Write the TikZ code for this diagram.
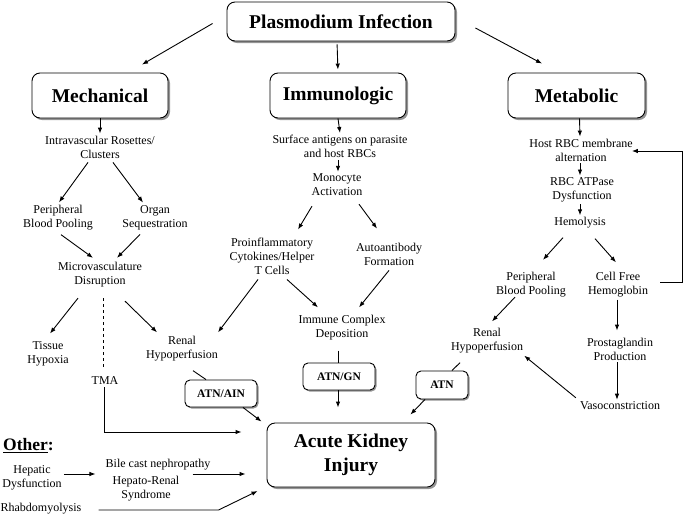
\documentclass[tikz,border=0pt]{standalone}
\usepackage{fontspec}
\setmainfont{Liberation Serif}
\usetikzlibrary{arrows.meta,shadows}
\tikzset{
	bigbox/.style={draw, line width=0.9pt, rounded corners=8pt, fill=white, align=center,
		drop shadow={shadow xshift=2pt, shadow yshift=-2pt, fill=black!70, opacity=0.6},
		font=\fontsize{19.5}{24}\selectfont\bfseries},
	smallbox/.style={draw, line width=0.9pt, rounded corners=5pt, fill=white, align=center,
		drop shadow={shadow xshift=1.5pt, shadow yshift=-1.5pt, fill=black!70, opacity=0.6},
		font=\fontsize{11.5}{14}\selectfont\bfseries},
	txt/.style={align=center, inner sep=2pt, font=\fontsize{12}{14}\selectfont},
	arr/.style={-{Latex[length=6pt,width=4.5pt]}, line width=0.9pt},
	lin/.style={line width=0.9pt}
}

\begin{document}
\begin{tikzpicture}[x=1pt, y=-1pt]
		%%%%% START %%%%%
		\useasboundingbox (0,0) rectangle (685,515);
		
		% top row
		\node[bigbox, minimum width=228pt, minimum height=39pt] (inf) at (341, 21.5) {Plasmodium Infection};
		\node[bigbox, minimum width=136pt, minimum height=45pt] (mech) at (100, 95.5) {Mechanical};
		\node[bigbox, minimum width=136pt, minimum height=45pt] (immu) at (338, 95.5) {Immunologic};
		\node[bigbox, minimum width=137pt, minimum height=45pt] (meta) at (576.5, 95.5) {Metabolic};
		\node[bigbox, minimum width=168pt, minimum height=64pt] (aki) at (351, 455) {Acute Kidney\\Injury};
		
		\draw[arr] ([shift={(-14,2)}]inf.west) -- ([shift={(42,-8)}]mech.north);
		\draw[arr, shorten <=3pt, shorten >=3pt] ([xshift=-4pt]inf.south) -- (immu.north);
		\draw[arr] ([shift={(20,6.5)}]inf.east) -- ([shift={(-34.5,-9)}]meta.north);
		
		% mechanical
		\node[txt] (ivr) at (100, 147) {Intravascular Rosettes/\\Clusters};
		\node[txt] (pbpa) at (58, 218) {Peripheral\\Blood Pooling};
		\node[txt] (orgs) at (155, 218) {Organ\\Sequestration};
		\node[txt] (mvd) at (100, 274.5) {Microvasculature\\Disruption};
		\node[txt] (thx) at (48, 354) {Tissue\\Hypoxia};
		\node[txt] (tma) at (105, 381) {TMA};
		\node[txt] (rhpa) at (182, 349) {Renal\\Hypoperfusion};
		\node[smallbox, minimum width=72pt, minimum height=27pt] (atnain) at (221, 393.5) {ATN/AIN};
		
		\draw[arr] (mech.south) -- (ivr.north);
		\draw[arr] ([shift={(-12,2)}]ivr.south) -- ([shift={(1,-1)}]pbpa.north);
		\draw[arr] ([shift={(13,2)}]ivr.south) -- ([shift={(-12,-1)}]orgs.north);
		\draw[arr] ([shift={(3,2)}]pbpa.south) -- ([shift={(-7,-2)}]mvd.north);
		\draw[arr] ([shift={(-15,2)}]orgs.south) -- ([shift={(17,-2)}]mvd.north);
		\draw[arr] ([shift={(-22,9)}]mvd.south) -- ([shift={(2,-6)}]thx.north);
		\draw[lin, dashed] ([shift={(3,9)}]mvd.south) -- ([shift={(-2,-8)}]tma.north);
		\draw[arr] ([shift={(25,12)}]mvd.south) -- ([shift={(-25,-2)}]rhpa.north);
		\draw[lin] ([shift={(11,7)}]rhpa.south) -- ([xshift=-15pt]atnain.north);
		\draw[arr] ([xshift=22pt]atnain.south) -- ([shift={(-5,-1)}]aki.north west);
		\draw[arr] ([xshift=-1pt]tma.south) |- ([shift={(-25,-23)}]aki.west);
		
		% immunologic
		\node[txt] (sag) at (340, 146.5) {Surface antigens on parasite\\and host RBCs};
		\node[txt] (mono) at (337, 185) {Monocyte\\Activation};
		\node[txt] (pro) at (272, 256) {Proinflammatory\\Cytokines/Helper\\T Cells};
		\node[txt] (auto) at (389, 254) {Autoantibody\\Formation};
		\node[txt] (icd) at (342, 328) {Immune Complex\\Deposition};
		\node[smallbox, minimum width=72pt, minimum height=27pt] (atngn) at (339, 376.5) {ATN/GN};
		
		\draw[arr] (immu.south) -- (sag.north);
		\draw[arr] ([xshift=-2pt]sag.south) -- ([xshift=1pt]mono.north);
		\draw[arr] ([shift={(-25,8)}]mono.south) -- ([shift={(26,-6)}]pro.north);
		\draw[arr] ([shift={(22,6)}]mono.south) -- ([shift={(-12,-12)}]auto.north);
		\draw[arr] ([shift={(-14,3)}]pro.south) -- ([shift={(36,-2)}]rhpa.north);
		\draw[arr] ([shift={(15,3)}]pro.south) -- ([shift={(-24,-6)}]icd.north);
		\draw[arr] ([shift={(0,3)}]auto.south) -- ([shift={(17,-6)}]icd.north);
		\draw[lin] ([shift={(-4,8)}]icd.south) -- ([xshift=-1pt]atngn.north);
		\draw[arr] ([xshift=-1pt]atngn.south) -- ([shift={(-13,-15)}]aki.north);
		
		% metabolic
		\node[txt] (hrbc) at (581, 150) {Host RBC membrane\\alternation};
		\node[txt] (atp) at (582, 190) {RBC ATPase\\Dysfunction};
		\node[txt] (hemo) at (580, 223) {Hemolysis};
		\node[txt] (pbpb) at (531, 284.5) {Peripheral\\Blood Pooling};
		\node[txt] (cfh) at (618, 285) {Cell Free\\Hemoglobin};
		\node[txt] (rhpb) at (487, 341) {Renal\\Hypoperfusion};
		\node[smallbox, minimum width=52pt, minimum height=28pt] (atn) at (442, 385) {ATN};
		\node[txt] (pgp) at (620, 349) {Prostaglandin\\Production};
		\node[txt] (vaso) at (620, 406) {Vasoconstriction};
		\coordinate (loop) at (682, 151);
		
		\draw[arr] ([xshift=3pt]meta.south) -- ([xshift=-1pt]hrbc.north);
		\draw[arr] ([xshift=-1pt]hrbc.south) -- ([xshift=-2pt]atp.north);
		\draw[arr] ([xshift=-2pt]atp.south) -- (hemo.north);
		\draw[arr] ([shift={(-17,7)}]hemo.south) -- ([shift={(12,-10)}]pbpb.north);
		\draw[arr] ([shift={(15,8)}]hemo.south) -- ([shift={(-2,-8)}]cfh.north);
		\draw[arr] ([shift={(10,-3)}]cfh.east) -| (loop) -- ([shift={(-3,1)}]hrbc.east);
		\draw[arr] ([shift={(-16,-2)}]pbpb.south) -- ([shift={(5,-5)}]rhpb.north);
		\draw[arr] ([xshift=-1pt]cfh.south) -- ([shift={(-3,-5)}]pgp.north);
		\draw[arr] ([xshift=-3pt]pgp.south) -- ([xshift=-3pt]vaso.north);
		\draw[arr] ([shift={(-2,-2)}]vaso.north west) -- ([shift={(-1,0)}]rhpb.south east);
		\draw[lin] ([shift={(-27,7)}]rhpb.south) -- ([xshift=10pt]atn.north);
		\draw[arr] ([xshift=-17pt]atn.south) -- ([shift={(-25,-8)}]aki.north east);
		
		% other
		\node[inner sep=0pt, font=\fontsize{17.5}{20}\selectfont\bfseries] (other) at (28.5, 446) {\underline{Other}:};
		\node[txt] (hep) at (32, 478) {Hepatic\\Dysfunction};
		\node[txt] (bile) at (158, 465) {Bile cast nephropathy};
		\node[txt] (hrs) at (146, 489) {Hepato-Renal\\Syndrome};
		\node[txt] (rhab) at (41, 509) {Rhabdomyolysis};
		
		\draw[arr] ([shift={(0,-4)}]hep.east) -- ([shift={(-15,-15)}]hrs.west);
		\draw[arr] ([shift={(11,-15)}]hrs.east) -- ([shift={(-21,19)}]aki.west);
		\draw[arr] ([shift={(15,1)}]rhab.east) -- ++(120,0) -- ([shift={(-9,36)}]aki.west);
		
		%%%%% END %%%%%
	\end{tikzpicture}
\end{document}
